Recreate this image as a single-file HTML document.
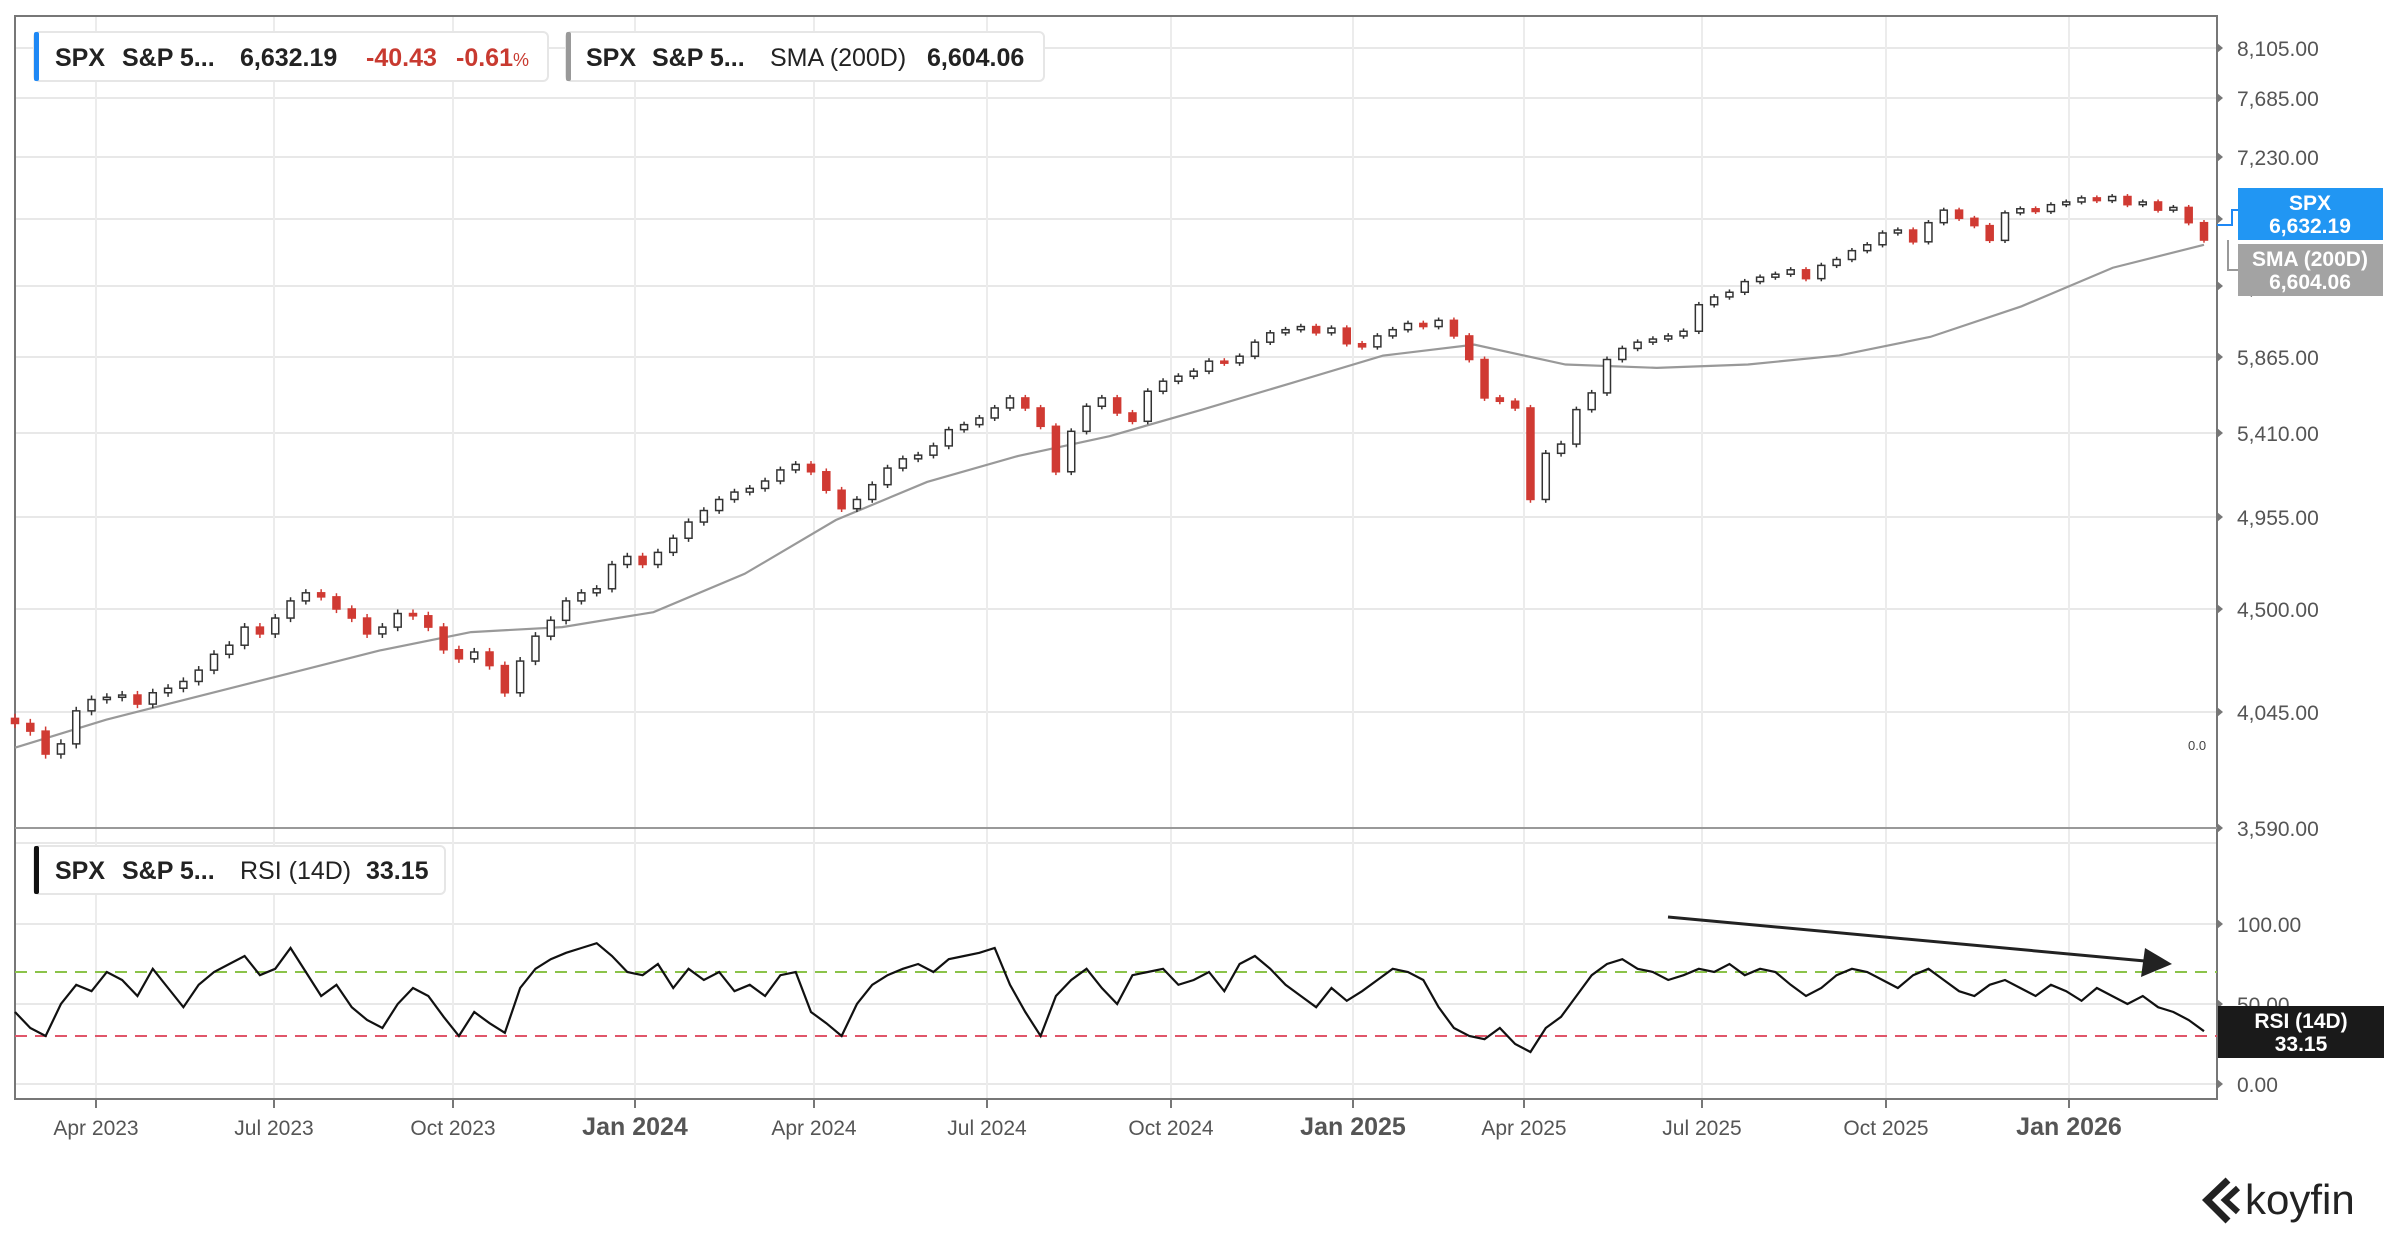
<!DOCTYPE html>
<html><head><meta charset="utf-8"><style>
body{margin:0;background:#fff;font-family:"Liberation Sans",sans-serif;}
svg{display:block}
</style></head><body>
<svg id="c" width="2400" height="1240" xmlns="http://www.w3.org/2000/svg" font-family="Liberation Sans, sans-serif"></svg>
<script>
const priceTicks=[8105,7685,7230,6775,6320,5865,5410,4955,4500,4045,3590];
const priceTickY=[48,98,157,219,286,357,433,517,609,712,828];
const rsiTicks=[100,50,0];
const monthLabels=["Apr 2023","Jul 2023","Oct 2023","Jan 2024","Apr 2024","Jul 2024","Oct 2024","Jan 2025","Apr 2025","Jul 2025","Oct 2025","Jan 2026"];
const monthX=[96,274,453,635,814,987,1171,1353,1524,1702,1886,2069];
const closes=[4000,3970,3880,3920,4050,4100,4110,4120,4080,4130,4150,4180,4230,4300,4340,4420,4390,4460,4540,4580,4560,4500,4460,4390,4420,4480,4470,4420,4320,4280,4310,4250,4130,4270,4380,4450,4540,4580,4600,4720,4760,4720,4780,4850,4930,4990,5050,5090,5110,5150,5210,5240,5200,5100,5000,5050,5130,5220,5270,5290,5340,5430,5460,5500,5560,5620,5560,5450,5200,5420,5570,5620,5530,5480,5660,5720,5750,5780,5840,5830,5870,5960,6020,6040,6060,6020,6050,5950,5930,6000,6040,6080,6060,6100,6000,5850,5620,5600,5560,5050,5300,5350,5550,5650,5850,5920,5960,5980,6000,6030,6200,6250,6280,6350,6380,6400,6430,6370,6460,6500,6560,6600,6680,6700,6620,6750,6840,6780,6730,6630,6820,6850,6830,6880,6900,6930,6910,6940,6880,6900,6840,6860,6750,6632];
const sma=[3905,4015,4113,4215,4317,4398,4420,4486,4674,4940,5145,5286,5393,5547,5710,5874,5944,5820,5800,5820,5875,5994,6190,6444,6600];
const rsi=[45,35,30,50,62,58,70,65,55,72,60,48,62,70,75,80,68,72,85,70,55,62,48,40,35,50,60,55,42,30,45,38,32,60,72,78,82,85,88,80,70,68,75,60,
72,65,70,58,62,55,68,70,45,38,30,50,62,68,72,75,70,78,80,82,85,62,45,30,55,65,72,60,50,68,70,72,62,65,70,58,75,80,72,62,55,48,60,52,
58,65,72,70,65,48,35,30,28,35,25,20,35,42,55,68,75,78,72,70,65,68,72,70,75,68,72,70,62,55,60,68,72,70,65,60,68,72,65,58,55,62,65,60,55,62,58,52,60,55,50,55,48,45,40,33];
const X0=15,X1=2204;
function xAt(i,n){return X0+i*(X1-X0)/(n-1);}
function yP(v){for(let k=0;k<priceTicks.length-1;k++){const a=priceTicks[k],b=priceTicks[k+1];if(v<=a&&v>=b)return priceTickY[k]+(a-v)/(a-b)*(priceTickY[k+1]-priceTickY[k]);}return v>priceTicks[0]?priceTickY[0]:priceTickY[priceTickY.length-1];}
function yR(v){return 1084-v*1.6;}
const svg=document.getElementById('c');const NS='http://www.w3.org/2000/svg';
function el(t,a,p){const e=document.createElementNS(NS,t);for(const k in a)e.setAttribute(k,a[k]);(p||svg).appendChild(e);return e;}
priceTicks.forEach((v,i)=>{const y=priceTickY[i];
 const g=el('line',{x1:15,x2:2217,y1:y,y2:y,stroke:i==priceTicks.length-1?'#999':'#e8e8e8','stroke-width':2});
 
 const t=el('text',{x:2237,y:y+8,'font-size':21,fill:'#555'});t.textContent=v.toLocaleString('en-US',{minimumFractionDigits:2});
 
 el('path',{d:`M2217 ${y-5}L2223 ${y}L2217 ${y+5}Z`,fill:'#777'});});
el('line',{x1:15,x2:2217,y1:843,y2:843,stroke:'#e8e8e8','stroke-width':2});
rsiTicks.forEach(v=>{const y=yR(v);
 const g=el('line',{x1:15,x2:2217,y1:y,y2:y,stroke:'#e8e8e8','stroke-width':2});
 
 const t=el('text',{x:2237,y:y+8,'font-size':21,fill:'#555'});t.textContent=v.toFixed(2);
 
 el('path',{d:`M2217 ${y-5}L2223 ${y}L2217 ${y+5}Z`,fill:'#777'});});
monthLabels.forEach((m,i)=>{const x=monthX[i];
 el('line',{x1:x,x2:x,y1:16,y2:1099,stroke:'#ececec','stroke-width':2});
 el('line',{x1:x,x2:x,y1:1099,y2:1108,stroke:'#777','stroke-width':2});
 const yr=m.startsWith('Jan');
 const t=el('text',{x:x,y:1135,'font-size':yr?25:21,'font-weight':yr?'bold':'normal',fill:'#555','text-anchor':'middle'});t.textContent=m;
 });
const fr=el('rect',{x:15,y:16,width:2202,height:1083,fill:'none',stroke:'#777','stroke-width':2});

el('line',{x1:15,x2:2217,y1:828,y2:828,stroke:'#999','stroke-width':2});
let d='';sma.forEach((v,i)=>{d+=(i?'L':'M')+xAt(i,sma.length)+' '+yP(v);});
const sl=el('path',{d,fill:'none',stroke:'#999','stroke-width':2.2});

closes.forEach((c,i)=>{const o=i?closes[i-1]:c+20;const x=xAt(i,closes.length);
 const up=c>=o;const hi=Math.max(o,c)+18,lo=Math.min(o,c)-18;const col=up?'#333':'#d03a33';
 el('line',{x1:x,x2:x,y1:yP(hi),y2:yP(lo),stroke:col,'stroke-width':1.5});
 const y1=yP(Math.max(o,c)),y2=yP(Math.min(o,c));
 const b=el('rect',{x:x-3.5,y:y1,width:7,height:Math.max(2,y2-y1),fill:up?'#fff':'#d03a33',stroke:col,'stroke-width':1.5});
 });
[[70,'#8bc34a'],[30,'#e0566a']].forEach(([v,c])=>{const l=el('line',{x1:15,x2:2217,y1:yR(v),y2:yR(v),stroke:c,'stroke-width':2,'stroke-dasharray':'12 8'});
 });
d='';rsi.forEach((v,i)=>{d+=(i?'L':'M')+xAt(i,rsi.length)+' '+yR(v);});
const rl=el('path',{d,fill:'none',stroke:'#111','stroke-width':2.2});

</script>
<svg style="position:absolute;left:0;top:0" width="2400" height="1240" font-family="Liberation Sans, sans-serif" font-size="25" font-weight="bold" fill="#222">
 <g>
  <rect x="34" y="32" width="514" height="49" rx="5" fill="#fff" stroke="#e6e6e6" stroke-width="2"/>
  <rect x="34" y="32" width="5" height="49" rx="2" fill="#1e88f5"/>
  <text x="55" y="66">SPX</text><text x="122" y="66">S&amp;P 5...</text>
  <text x="240" y="66">6,632.19</text>
  <text x="366" y="66" fill="#c83a30">-40.43</text>
  <text x="456" y="66" fill="#c83a30">-0.61<tspan font-size="18" font-weight="normal">%</tspan></text>
 </g>
 <g>
  <rect x="566" y="32" width="478" height="49" rx="5" fill="#fff" stroke="#e6e6e6" stroke-width="2"/>
  <rect x="566" y="32" width="5" height="49" rx="2" fill="#999"/>
  <text x="586" y="66">SPX</text><text x="652" y="66">S&amp;P 5...</text>
  <text x="770" y="66" font-weight="normal">SMA (200D)</text>
  <text x="927" y="66">6,604.06</text>
 </g>
 <g>
  <rect x="34" y="846" width="411" height="48" rx="5" fill="#fff" stroke="#e6e6e6" stroke-width="2"/>
  <rect x="34" y="846" width="5" height="48" rx="2" fill="#111"/>
  <text x="55" y="879">SPX</text><text x="122" y="879">S&amp;P 5...</text>
  <text x="240" y="879" font-weight="normal">RSI (14D)</text>
  <text x="366" y="879">33.15</text>
 </g>
 <path d="M1668 917 L2145 961" stroke="#222" stroke-width="3"/>
 <path d="M2145 948 L2172 964 L2141 977 Z" fill="#222"/>
 <text x="2188" y="750" font-size="13" font-weight="normal" fill="#444">0.0</text>
 <g font-size="21" fill="#fff">
  <path d="M2217 225 H2232 V210 H2238" stroke="#1e88f5" stroke-width="2" fill="none"/>
  <rect x="2238" y="188" width="145" height="52" fill="#2196f3"/>
  <text x="2310" y="210" text-anchor="middle">SPX</text>
  <text x="2310" y="233" text-anchor="middle">6,632.19</text>
 </g>
 <g font-size="21" fill="#fff">
  <path d="M2228 240 V270 H2238" stroke="#999" stroke-width="2" fill="none"/>
  <rect x="2238" y="244" width="145" height="52" fill="#a3a3a3"/>
  <text x="2310" y="266" text-anchor="middle">SMA (200D)</text>
  <text x="2310" y="289" text-anchor="middle">6,604.06</text>
 </g>
 <g font-size="21" fill="#fff">
  <rect x="2218" y="1006" width="166" height="52" fill="#1a1a1a"/>
  <text x="2301" y="1028" text-anchor="middle">RSI (14D)</text>
  <text x="2301" y="1051" text-anchor="middle">33.15</text>
 </g>
 <g>
  <path d="M2228 1180 L2207 1200 L2228 1221" stroke="#222" stroke-width="7" fill="none"/>
  <path d="M2238 1188 L2225 1200 L2238 1212" stroke="#222" stroke-width="6" fill="none"/>
  <text x="2245" y="1214" font-size="42" font-weight="normal">koyfin</text>
 </g>
</svg>
</body></html>
